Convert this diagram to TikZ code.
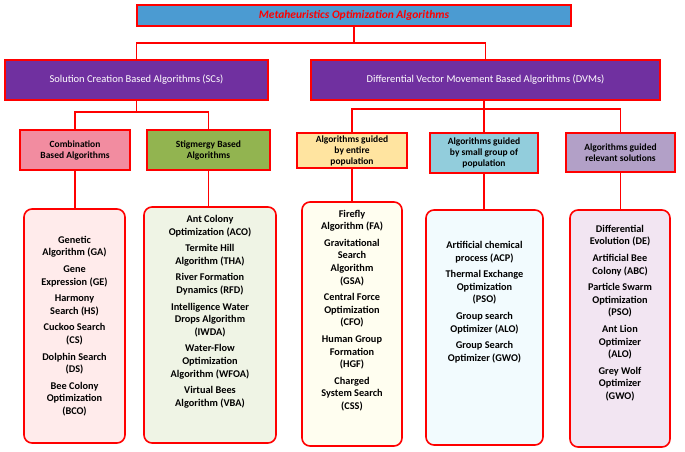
\documentclass[tikz,border=0pt]{standalone}
\usepackage{fontspec}
\setmainfont{Carlito}
\usetikzlibrary{positioning}
\definecolor{topblue}{RGB}{75,155,210}
\definecolor{dvmpurple}{RGB}{112,48,160}
\definecolor{combpink}{RGB}{242,140,160}
\definecolor{stiggreen}{RGB}{146,180,80}
\definecolor{entyellow}{RGB}{255,228,160}
\definecolor{smallblue}{RGB}{146,205,220}
\definecolor{relpurple}{RGB}{178,160,199}
\tikzset{
    block/.style={rectangle, draw=red, line width=1.6pt, text centered, font=\bfseries\fontsize{9.5}{11}\selectfont, inner sep=2pt},
    group/.style={rectangle, draw=red, line width=1.6pt, fill=dvmpurple, text=white, font=\fontsize{10.5}{12}\selectfont},
    list/.style={rectangle, rounded corners=8pt, draw=red, line width=1.6pt, align=center, font=\bfseries\fontsize{10.3}{12.6}\selectfont},
    link/.style={red, line width=1.6pt}
}
\begin{document}
\begin{tikzpicture}[x=1pt, y=-1pt]
    \useasboundingbox (0,0) rectangle (685,451);
    % Nodes
    \node (top) [block, fill=topblue, text=red, minimum width=434pt, minimum height=21pt, font=\bfseries\itshape\fontsize{11.5}{13}\selectfont] at (354,15.5) {Metaheuristics Optimization Algorithms};
    \node (sc) [group, minimum width=263pt, minimum height=40pt] at (136.5,80) {Solution Creation Based Algorithms (SCs)};
    \node (dvm) [group, minimum width=349pt, minimum height=40pt] at (485.5,80) {Differential Vector Movement Based Algorithms (DVMs)};
    \node (comb) [block, fill=combpink, minimum width=110pt, minimum height=40pt, align=center] at (75,150) {Combination\\Based Algorithms};
    \node (stig) [block, fill=stiggreen, minimum width=123pt, minimum height=40pt, align=center] at (208.5,150) {Stigmergy Based\\Algorithms};
    \node (entire) [block, fill=entyellow, minimum width=110pt, minimum height=35pt, align=center] at (352,150.5) {Algorithms guided\\by entire\\population};
    \node (small) [block, fill=smallblue, minimum width=108pt, minimum height=40pt, align=center] at (484,153) {Algorithms guided\\by small group of\\population};
    \node (rel) [block, fill=relpurple, minimum width=109pt, minimum height=39pt, align=center] at (620.5,152.5) {Algorithms guided\\relevant solutions};
    \node (combL) [list, fill=red!8, minimum width=101pt, minimum height=234pt] at (74.5,326) {Genetic\\Algorithm (GA)\\[4pt]Gene\\Expression (GE)\\[4pt]Harmony\\Search (HS)\\[4pt]Cuckoo Search\\(CS)\\[4pt]Dolphin Search\\(DS)\\[4pt]Bee Colony\\Optimization\\(BCO)};
    \node (stigL) [list, fill=stiggreen!15, minimum width=132pt, minimum height=236pt] at (210,325) {Ant Colony\\Optimization (ACO)\\[4pt]Termite Hill\\Algorithm (THA)\\[4pt]River Formation\\Dynamics (RFD)\\[4pt]Intelligence Water\\Drops Algorithm\\(IWDA)\\[4pt]Water-Flow\\Optimization\\Algorithm (WFOA)\\[4pt]Virtual Bees\\Algorithm (VBA)\\[16pt]};
    \node (entL) [list, fill=yellow!6, minimum width=100pt, minimum height=244pt] at (352,324) {Firefly\\Algorithm (FA)\\[4pt]Gravitational\\Search\\Algorithm\\(GSA)\\[4pt]Central Force\\Optimization\\(CFO)\\[4pt]Human Group\\Formation\\(HGF)\\[4pt]Charged\\System Search\\(CSS)\\[16pt]};
    \node (smallL) [list, fill=cyan!5, minimum width=117pt, minimum height=235pt] at (484.5,327.5) {Artificial chemical\\process (ACP)\\[4pt]Thermal Exchange\\Optimization\\(PSO)\\[4pt]Group search\\Optimizer (ALO)\\[4pt]Group Search\\Optimizer (GWO)\\[40pt]};
    \node (relL) [list, fill=violet!10, minimum width=100pt, minimum height=237pt] at (620,328.5) {Differential\\Evolution (DE)\\[4pt]Artificial Bee\\Colony (ABC)\\[4pt]Particle Swarm\\Optimization\\(PSO)\\[4pt]Ant Lion\\Optimizer\\(ALO)\\[4pt]Grey Wolf\\Optimizer\\(GWO)\\[20pt]};
    % Connectors
    \coordinate (topJ) at (top.south |- 0,43);
    \draw [link] (top.south) -- (topJ);
    \draw [link] (sc.north) |- (topJ) -| (dvm.north);
    \coordinate (scJ) at (sc.south |- 0,112);
    \draw [link] (sc.south) -- (scJ);
    \draw [link] (comb.north) |- (scJ) -| (stig.north);
    \coordinate (dvmJ) at (small.north |- 0,109);
    \draw [link] (dvm.south -| small.north) -- (dvmJ);
    \draw [link] (entire.north) |- (dvmJ) -| (rel.north);
    \draw [link] (dvmJ) -- (small.north);
    \draw [link] (comb.south) -- (combL.north -| comb.south);
    \draw [link] (stig.south) -- (stigL.north -| stig.south);
    \draw [link] (entire.south) -- (entL.north -| entire.south);
    \draw [link] (small.south) -- (smallL.north -| small.south);
    \draw [link] (rel.south) -- (relL.north -| rel.south);
\end{tikzpicture}
\end{document}
